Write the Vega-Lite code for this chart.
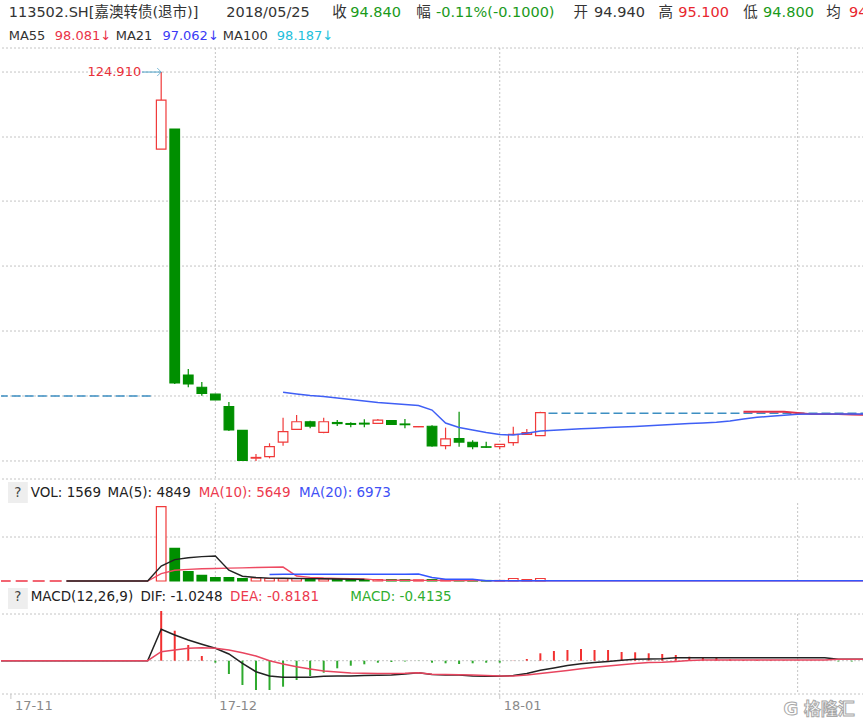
{
"$schema": "https://vega.github.io/schema/vega-lite/v6.json",
"width": 863, "height": 694, "padding": 0, "background": "#ffffff",
"config": {"view": {"stroke": null}, "font": "DejaVu Sans"},
"resolve": {"scale": {"y": "independent"}},
"datasets": {
"k": [
{"d":"2017-11-27","i":0,"o":118.12,"h":124.91,"l":118.12,"c":122.44,"v":743000},
{"d":"2017-11-28","i":1,"o":119.88,"h":119.88,"l":97.40,"c":97.49,"v":327000},
{"d":"2017-11-29","i":2,"o":98.19,"h":98.72,"l":97.12,"c":97.40,"v":93000},
{"d":"2017-11-30","i":3,"o":97.11,"h":97.57,"l":96.37,"c":96.58,"v":57000},
{"d":"2017-12-01","i":4,"o":96.50,"h":96.50,"l":95.99,"c":95.99,"v":33000},
{"d":"2017-12-04","i":5,"o":95.40,"h":95.81,"l":93.25,"c":93.34,"v":33000},
{"d":"2017-12-05","i":6,"o":93.30,"h":93.30,"l":90.61,"c":90.65,"v":23000},
{"d":"2017-12-06","i":7,"o":90.86,"h":91.22,"l":90.61,"c":90.92,"v":30000},
{"d":"2017-12-07","i":8,"o":90.99,"h":92.17,"l":90.84,"c":91.87,"v":25000},
{"d":"2017-12-08","i":9,"o":92.28,"h":94.43,"l":91.96,"c":93.19,"v":23000},
{"d":"2017-12-11","i":10,"o":93.40,"h":94.66,"l":93.40,"c":94.07,"v":25000},
{"d":"2017-12-12","i":11,"o":94.07,"h":94.16,"l":93.49,"c":93.69,"v":17000},
{"d":"2017-12-13","i":12,"o":93.14,"h":94.43,"l":93.05,"c":94.07,"v":20000},
{"d":"2017-12-14","i":13,"o":94.00,"h":94.22,"l":93.69,"c":93.91,"v":15000},
{"d":"2017-12-15","i":14,"o":93.91,"h":94.02,"l":93.58,"c":93.84,"v":13000},
{"d":"2017-12-18","i":15,"o":93.94,"h":94.28,"l":93.58,"c":93.87,"v":13000},
{"d":"2017-12-19","i":16,"o":93.93,"h":94.31,"l":93.93,"c":94.22,"v":15000},
{"d":"2017-12-20","i":17,"o":94.16,"h":94.16,"l":93.84,"c":93.84,"v":15000},
{"d":"2017-12-21","i":18,"o":93.87,"h":94.31,"l":93.49,"c":93.81,"v":13000},
{"d":"2017-12-22","i":19,"o":93.62,"h":93.66,"l":93.60,"c":93.64,"v":11000},
{"d":"2017-12-25","i":20,"o":93.67,"h":93.75,"l":91.87,"c":91.93,"v":15000},
{"d":"2017-12-26","i":21,"o":91.96,"h":93.55,"l":91.64,"c":92.55,"v":12000},
{"d":"2017-12-27","i":22,"o":92.58,"h":94.95,"l":91.87,"c":92.28,"v":12000},
{"d":"2017-12-28","i":23,"o":92.26,"h":92.43,"l":91.64,"c":91.87,"v":10000},
{"d":"2017-12-29","i":24,"o":91.86,"h":92.31,"l":91.78,"c":91.82,"v":5000},
{"d":"2018-01-02","i":25,"o":91.87,"h":92.11,"l":91.67,"c":92.08,"v":5000},
{"d":"2018-01-03","i":26,"o":92.22,"h":93.63,"l":91.96,"c":92.96,"v":25000},
{"d":"2018-01-04","i":27,"o":92.96,"h":93.42,"l":92.96,"c":93.11,"v":13000},
{"d":"2018-01-05","i":28,"o":92.84,"h":94.95,"l":92.84,"c":94.87,"v":25000}
],
"pma": [
{"i":9,"p":96.67},{"i":10,"p":96.52},{"i":11,"p":96.38},{"i":12,"p":96.29},{"i":13,"p":96.16},{"i":14,"p":96.03},{"i":15,"p":95.90},{"i":16,"p":95.76},{"i":17,"p":95.68},{"i":18,"p":95.59},{"i":19,"p":95.50},{"i":20,"p":95.10},{"i":21,"p":93.96},{"i":22,"p":93.56},{"i":23,"p":93.34},{"i":24,"p":93.12},{"i":25,"p":92.94},{"i":26,"p":92.90},{"i":27,"p":93.05},{"i":28,"p":93.25},{"i":29,"p":93.31},{"i":30,"p":93.38},{"i":31,"p":93.45},{"i":32,"p":93.50},{"i":33,"p":93.56},{"i":34,"p":93.60},{"i":35,"p":93.66},{"i":36,"p":93.71},{"i":37,"p":93.78},{"i":38,"p":93.84},{"i":39,"p":93.91},{"i":40,"p":93.96},{"i":41,"p":94.02},{"i":42,"p":94.13},{"i":43,"p":94.31},{"i":44,"p":94.46},{"i":45,"p":94.55},{"i":46,"p":94.64},{"i":47,"p":94.73},{"i":48,"p":94.75},{"i":49,"p":94.75},{"i":50,"p":94.75},{"i":51,"p":94.75},{"i":52,"p":94.75}
],
"pma55": [
{"i":43,"p":94.95},{"i":44,"p":94.95},{"i":45,"p":94.95},{"i":46,"p":94.95},{"i":47,"p":94.84},{"i":48,"p":94.75},{"i":49,"p":94.75},{"i":50,"p":94.75},{"i":51,"p":94.71},{"i":52,"p":94.66}
],
"dsh": [
{"s":"a","i":-12,"p":96.34},{"s":"a","i":-0.66,"p":96.34},{"s":"b","i":28.6,"p":94.81},{"s":"b","i":52,"p":94.81}
],
"hi": [{"i":0,"p":124.91,"t":"124.910"}],
"vma": [
{"i":-7,"m5":0,"m10":0},{"i":-6,"m5":0,"m10":0},{"i":-5,"m5":0,"m10":0},{"i":-4,"m5":0,"m10":0},{"i":-3,"m5":0,"m10":0},{"i":-2,"m5":0,"m10":0},{"i":-1,"m5":0,"m10":0},
{"i":0,"m5":148600,"m10":74300},{"i":1,"m5":214000,"m10":107000},{"i":2,"m5":232600,"m10":116300},{"i":3,"m5":244000,"m10":122000},{"i":4,"m5":250600,"m10":125300},{"i":5,"m5":108600,"m10":128600},{"i":6,"m5":47800,"m10":130900},{"i":7,"m5":35200,"m10":134600},
{"i":8,"m5":28800,"m10":137100,"m20":66000},{"i":9,"m5":26800,"m10":139400,"m20":67000},{"i":10,"m5":25200,"m10":50000,"m20":67000},{"i":11,"m5":24000,"m10":36600,"m20":67000},{"i":12,"m5":22000,"m10":29300,"m20":67500},{"i":13,"m5":20000,"m10":25100,"m20":67500},{"i":14,"m5":18000,"m10":23100,"m20":68000},{"i":15,"m5":15600,"m10":21100,"m20":68000},
{"i":16,"m10":9000,"m20":68000},{"i":17,"m10":8000,"m20":68500},{"i":18,"m10":7000,"m20":68500},{"i":19,"m10":6000,"m20":69000},{"i":20,"m10":6000,"m20":35000},{"i":21,"m10":5000,"m20":17000},{"i":22,"m10":5000,"m20":17000},{"i":23,"m10":5000,"m20":17000},{"i":24,"m10":4000,"m20":3000},
{"i":25,"m10":2500,"m20":3000},{"i":26,"m10":2500,"m20":3000},{"i":27,"m10":2500,"m20":3000},{"i":28,"m10":2500,"m20":3000},{"i":29,"m10":2500,"m20":3000},{"i":30,"m10":2500,"m20":3000},{"i":31,"m10":2500,"m20":3000},{"i":32,"m10":2500,"m20":3000},{"i":33,"m10":2500,"m20":3000},{"i":34,"m10":2500,"m20":3000},{"i":35,"m10":2500,"m20":3000},{"i":36,"m10":2500,"m20":3000},{"i":37,"m10":2500,"m20":3000},{"i":38,"m10":2500,"m20":3000},{"i":39,"m10":2500,"m20":3000},{"i":40,"m10":2500,"m20":3000},{"i":41,"m10":2500,"m20":3000},{"i":42,"m10":2500,"m20":3000},{"i":43,"m10":2500,"m20":3000},{"i":44,"m10":2500,"m20":3000},{"i":45,"m10":2500,"m20":3000},{"i":46,"m10":2500,"m20":3000},{"i":47,"m10":2500,"m20":3000},{"i":48,"m10":2500,"m20":3000},{"i":49,"m10":2500,"m20":3000},{"i":50,"m10":2500,"m20":3000},{"i":51,"m10":2500,"m20":3000},{"i":52,"m10":2500,"m20":3000}
],
"vdash": [{"i":-12,"v":0},{"i":-7.1,"v":0}],
"macd": [
{"i":-12,"dif":0,"dea":0},{"i":-11,"dif":0,"dea":0},{"i":-10,"dif":0,"dea":0},{"i":-9,"dif":0,"dea":0},{"i":-8,"dif":0,"dea":0},{"i":-7,"dif":0,"dea":0},{"i":-6,"dif":0,"dea":0},{"i":-5,"dif":0,"dea":0},{"i":-4,"dif":0,"dea":0},{"i":-3,"dif":0,"dea":0},{"i":-2,"dif":0,"dea":0},{"i":-1,"dif":0,"dea":0},
{"i":0,"dif":3.14,"dea":0.90,"m":4.97},{"i":1,"dif":2.57,"dea":1.07,"m":3.00},{"i":2,"dif":2.07,"dea":1.24,"m":1.57},{"i":3,"dif":1.64,"dea":1.30,"m":0.47},{"i":4,"dif":1.24,"dea":1.24,"m":-0.20},{"i":5,"dif":0.67,"dea":1.07,"m":-1.33},{"i":6,"dif":-0.26,"dea":0.80,"m":-2.43},{"i":7,"dif":-1.10,"dea":0.47,"m":-2.93},{"i":8,"dif":-1.53,"dea":0.00,"m":-2.93},{"i":9,"dif":-1.66,"dea":-0.33,"m":-2.60},{"i":10,"dif":-1.66,"dea":-0.60,"m":-1.93},{"i":11,"dif":-1.66,"dea":-0.83,"m":-1.53},{"i":12,"dif":-1.56,"dea":-1.03,"m":-1.20},{"i":13,"dif":-1.53,"dea":-1.13,"m":-0.76},{"i":14,"dif":-1.53,"dea":-1.23,"m":-0.50},{"i":15,"dif":-1.48,"dea":-1.26,"m":-0.36},{"i":16,"dif":-1.46,"dea":-1.28,"m":-0.20},{"i":17,"dif":-1.43,"dea":-1.28,"m":-0.13},{"i":18,"dif":-1.33,"dea":-1.26,"m":-0.08},{"i":19,"dif":-1.21,"dea":-1.21,"m":-0.02},{"i":20,"dif":-1.38,"dea":-1.35,"m":-0.20},{"i":21,"dif":-1.43,"dea":-1.38,"m":-0.26},{"i":22,"dif":-1.43,"dea":-1.40,"m":-0.33},{"i":23,"dif":-1.53,"dea":-1.43,"m":-0.26},{"i":24,"dif":-1.56,"dea":-1.48,"m":-0.20},{"i":25,"dif":-1.56,"dea":-1.53,"m":-0.20},{"i":26,"dif":-1.48,"dea":-1.53,"m":0.02},{"i":27,"dif":-1.28,"dea":-1.43,"m":0.17},{"i":28,"dif":-0.96,"dea":-1.28,"m":0.74},{"i":29,"dif":-0.73,"dea":-1.13,"m":0.97},{"i":30,"dif":-0.48,"dea":-0.98,"m":1.07},{"i":31,"dif":-0.31,"dea":-0.81,"m":1.17},{"i":32,"dif":-0.18,"dea":-0.66,"m":1.07},{"i":33,"dif":-0.08,"dea":-0.53,"m":1.07},{"i":34,"dif":0.04,"dea":-0.40,"m":0.87},{"i":35,"dif":0.14,"dea":-0.28,"m":0.84},{"i":36,"dif":0.17,"dea":-0.18,"m":0.74},{"i":37,"dif":0.19,"dea":-0.16,"m":0.67},{"i":38,"dif":0.30,"dea":-0.08,"m":0.57},{"i":39,"dif":0.30,"dea":0.02,"m":0.40},{"i":40,"dif":0.30,"dea":0.07,"m":0.34},{"i":41,"dif":0.30,"dea":0.07,"m":0.30},{"i":42,"dif":0.30,"dea":0.07,"m":0.12},{"i":43,"dif":0.30,"dea":0.07,"m":0.07},{"i":44,"dif":0.30,"dea":0.07,"m":0.07},{"i":45,"dif":0.30,"dea":0.07,"m":0.05},{"i":46,"dif":0.30,"dea":0.07,"m":0.04},{"i":47,"dif":0.30,"dea":0.07,"m":0.03},{"i":48,"dif":0.30,"dea":0.07,"m":0.02},{"i":49,"dif":0.30,"dea":0.07,"m":0.0},{"i":50,"dif":0.14,"dea":0.14,"m":-0.08},{"i":51,"dif":0.14,"dea":0.14,"m":-0.08},{"i":52,"dif":0.14,"dea":0.14}
],
"hgp": [{"p":127.03},{"p":124.91},{"p":119.18},{"p":113.53},{"p":107.80},{"p":102.07},{"p":96.34},{"p":90.61},{"p":89.02}],
"hgv": [{"v":440000}],
"hgm": [{"m":4.67},{"m":0},{"m":-3.33}],
"vg": [{"i":4},{"i":25},{"i":47}],
"mon": [{"i":-11.1,"t":"17-11"},{"i":4,"t":"17-12"},{"i":25,"t":"18-01"}]
},
"layer": [
{"data":{"name":"hgp"},"mark":{"type":"rule","color":"#c4c4c4","strokeDash":[2,2],"strokeWidth":1},
 "encoding":{"y":{"field":"p","type":"quantitative","scale":{"domain":[89.02,127.03],"range":[479,48],"nice":false,"zero":false},"axis":null}}},
{"data":{"name":"hgv"},"mark":{"type":"rule","color":"#c4c4c4","strokeDash":[2,2],"strokeWidth":1},
 "encoding":{"y":{"field":"v","type":"quantitative","scale":{"domain":[0,780000],"range":[581,503],"nice":false,"zero":false},"axis":null}}},
{"data":{"name":"hgm"},"mark":{"type":"rule","color":"#c4c4c4","strokeDash":[2,2],"strokeWidth":1},
 "encoding":{"y":{"field":"m","type":"quantitative","scale":{"domain":[-3.33,5.67],"range":[694,604],"nice":false,"zero":false},"axis":null}}},
{"data":{"name":"vg"},"mark":{"type":"rule","color":"#c4c4c4","strokeDash":[2,2],"strokeWidth":1},
 "encoding":{"x":{"field":"i","type":"quantitative","scale":{"domain":[-11.46,51.53],"nice":false,"zero":false},"axis":null},
  "y":{"datum":127.03,"type":"quantitative","scale":{"domain":[89.02,127.03],"range":[479,48],"nice":false,"zero":false},"axis":null},"y2":{"datum":89.02}}},
{"data":{"name":"vg"},"mark":{"type":"rule","color":"#c4c4c4","strokeDash":[2,2],"strokeWidth":1},
 "encoding":{"x":{"field":"i","type":"quantitative","scale":{"domain":[-11.46,51.53],"nice":false,"zero":false},"axis":null},
  "y":{"datum":780000,"type":"quantitative","scale":{"domain":[0,780000],"range":[581,503],"nice":false,"zero":false},"axis":null},"y2":{"datum":0}}},
{"data":{"name":"vg"},"mark":{"type":"rule","color":"#c4c4c4","strokeDash":[2,2],"strokeWidth":1},
 "encoding":{"x":{"field":"i","type":"quantitative","scale":{"domain":[-11.46,51.53],"nice":false,"zero":false},"axis":null},
  "y":{"datum":4.67,"type":"quantitative","scale":{"domain":[-3.33,5.67],"range":[694,604],"nice":false,"zero":false},"axis":null},"y2":{"datum":-3.33}}},
{"data":{"name":"mon"},"mark":{"type":"rule","color":"#c8c8c8","strokeWidth":1},
 "encoding":{"x":{"field":"i","type":"quantitative","scale":{"domain":[-11.46,51.53],"nice":false,"zero":false},"axis":null},
  "y":{"datum":-3.33,"type":"quantitative","scale":{"domain":[-3.33,5.67],"range":[694,604],"nice":false,"zero":false},"axis":null},"y2":{"datum":-3.83}}},
{"data":{"name":"mon"},"mark":{"type":"text","align":"left","baseline":"middle","dx":4,"fontSize":13,"font":"DejaVu Sans","color":"#8a8a8a"},
 "encoding":{"x":{"field":"i","type":"quantitative","scale":{"domain":[-11.46,51.53],"nice":false,"zero":false},"axis":null},
  "y":{"datum":-4.53,"type":"quantitative","scale":{"domain":[-3.33,5.67],"range":[694,604],"nice":false,"zero":false},"axis":null},"text":{"field":"t"}}},
{"data":{"name":"dsh"},"mark":{"type":"line","color":"#3d8fc2","strokeDash":[9,4],"strokeWidth":1.5,"clip":true},
 "encoding":{"x":{"field":"i","type":"quantitative","scale":{"domain":[-11.46,51.53],"nice":false,"zero":false},"axis":null},
  "y":{"field":"p","type":"quantitative","scale":{"domain":[89.02,127.03],"range":[479,48],"nice":false,"zero":false},"axis":null},"detail":{"field":"s"}}},
{"data":{"name":"k"},"mark":{"type":"rule","strokeWidth":1.2},
 "encoding":{"x":{"field":"i","type":"quantitative","scale":{"domain":[-11.46,51.53],"nice":false,"zero":false},"axis":null},
  "y":{"field":"l","type":"quantitative","scale":{"domain":[89.02,127.03],"range":[479,48],"nice":false,"zero":false},"axis":null},"y2":{"field":"h"},
  "stroke":{"condition":{"test":"datum.c >= datum.o","value":"#f03a3a"},"value":"#008f00"}}},
{"data":{"name":"k"},"mark":{"type":"bar","width":9.6,"strokeWidth":1.2,"fillOpacity":1},
 "encoding":{"x":{"field":"i","type":"quantitative","scale":{"domain":[-11.46,51.53],"nice":false,"zero":false},"axis":null},
  "y":{"field":"o","type":"quantitative","scale":{"domain":[89.02,127.03],"range":[479,48],"nice":false,"zero":false},"axis":null},"y2":{"field":"c"},
  "fill":{"condition":{"test":"datum.c >= datum.o","value":"#ffffff"},"value":"#008f00"},
  "stroke":{"condition":{"test":"datum.c >= datum.o","value":"#f03a3a"},"value":"#008f00"}}},
{"data":{"name":"pma55"},"mark":{"type":"line","color":"#e0304a","strokeWidth":1.8,"clip":true},
 "encoding":{"x":{"field":"i","type":"quantitative","scale":{"domain":[-11.46,51.53],"nice":false,"zero":false},"axis":null},
  "y":{"field":"p","type":"quantitative","scale":{"domain":[89.02,127.03],"range":[479,48],"nice":false,"zero":false},"axis":null}}},
{"data":{"name":"pma"},"mark":{"type":"line","color":"#3f5ff5","strokeWidth":1.5,"clip":true},
 "encoding":{"x":{"field":"i","type":"quantitative","scale":{"domain":[-11.46,51.53],"nice":false,"zero":false},"axis":null},
  "y":{"field":"p","type":"quantitative","scale":{"domain":[89.02,127.03],"range":[479,48],"nice":false,"zero":false},"axis":null}}},
{"data":{"name":"hi"},"mark":{"type":"rule","color":"#4aa0c8","strokeWidth":1},
 "encoding":{"x":{"field":"i","type":"quantitative","scale":{"domain":[-11.46,51.53],"nice":false,"zero":false},"axis":null},"x2":{"datum":-1.42},
  "y":{"field":"p","type":"quantitative","scale":{"domain":[89.02,127.03],"range":[479,48],"nice":false,"zero":false},"axis":null}}},
{"data":{"name":"hi"},"mark":{"type":"point","shape":"M-1,-1L0,0L-1,1","size":64,"filled":false,"stroke":"#4aa0c8","strokeWidth":1},
 "encoding":{"x":{"field":"i","type":"quantitative","scale":{"domain":[-11.46,51.53],"nice":false,"zero":false},"axis":null},
  "y":{"field":"p","type":"quantitative","scale":{"domain":[89.02,127.03],"range":[479,48],"nice":false,"zero":false},"axis":null}}},
{"data":{"name":"hi"},"mark":{"type":"text","align":"right","baseline":"middle","dx":-20,"fontSize":13,"color":"#e8303a","font":"DejaVu Sans"},
 "encoding":{"x":{"field":"i","type":"quantitative","scale":{"domain":[-11.46,51.53],"nice":false,"zero":false},"axis":null},
  "y":{"field":"p","type":"quantitative","scale":{"domain":[89.02,127.03],"range":[479,48],"nice":false,"zero":false},"axis":null},"text":{"field":"t"}}},
{"data":{"name":"k"},"mark":{"type":"bar","width":9.6,"strokeWidth":1.2,"fillOpacity":1},
 "encoding":{"x":{"field":"i","type":"quantitative","scale":{"domain":[-11.46,51.53],"nice":false,"zero":false},"axis":null},
  "y":{"field":"v","type":"quantitative","scale":{"domain":[0,780000],"range":[581,503],"nice":false,"zero":false},"axis":null},
  "fill":{"condition":{"test":"datum.c >= datum.o","value":"#ffffff"},"value":"#008f00"},
  "stroke":{"condition":{"test":"datum.c >= datum.o","value":"#f03a3a"},"value":"#008f00"}}},
{"data":{"name":"vdash"},"mark":{"type":"line","color":"#ee3344","strokeDash":[12,5],"strokeWidth":1.5,"clip":true},
 "encoding":{"x":{"field":"i","type":"quantitative","scale":{"domain":[-11.46,51.53],"nice":false,"zero":false},"axis":null},
  "y":{"field":"v","type":"quantitative","scale":{"domain":[0,780000],"range":[581,503],"nice":false,"zero":false},"axis":null}}},
{"data":{"name":"vma"},"mark":{"type":"line","color":"#ee4a62","strokeWidth":1.4,"clip":true},
 "encoding":{"x":{"field":"i","type":"quantitative","scale":{"domain":[-11.46,51.53],"nice":false,"zero":false},"axis":null},
  "y":{"field":"m10","type":"quantitative","scale":{"domain":[0,780000],"range":[581,503],"nice":false,"zero":false},"axis":null}}},
{"data":{"name":"vma"},"mark":{"type":"line","color":"#222222","strokeWidth":1.4,"clip":true},
 "encoding":{"x":{"field":"i","type":"quantitative","scale":{"domain":[-11.46,51.53],"nice":false,"zero":false},"axis":null},
  "y":{"field":"m5","type":"quantitative","scale":{"domain":[0,780000],"range":[581,503],"nice":false,"zero":false},"axis":null}}},
{"data":{"name":"vma"},"mark":{"type":"line","color":"#3355ff","strokeWidth":1.5,"clip":true},
 "encoding":{"x":{"field":"i","type":"quantitative","scale":{"domain":[-11.46,51.53],"nice":false,"zero":false},"axis":null},
  "y":{"field":"m20","type":"quantitative","scale":{"domain":[0,780000],"range":[581,503],"nice":false,"zero":false},"axis":null}}},
{"data":{"name":"macd"},"transform":[{"filter":"isValid(datum.m)"}],"mark":{"type":"rule","strokeWidth":2},
 "encoding":{"x":{"field":"i","type":"quantitative","scale":{"domain":[-11.46,51.53],"nice":false,"zero":false},"axis":null},
  "y":{"field":"m","type":"quantitative","scale":{"domain":[-3.33,5.67],"range":[694,604],"nice":false,"zero":false},"axis":null},"y2":{"datum":0},
  "stroke":{"condition":{"test":"datum.m >= 0","value":"#f23030"},"value":"#2eaa2e"}}},
{"data":{"name":"macd"},"mark":{"type":"line","color":"#222222","strokeWidth":1.5,"clip":true},
 "encoding":{"x":{"field":"i","type":"quantitative","scale":{"domain":[-11.46,51.53],"nice":false,"zero":false},"axis":null},
  "y":{"field":"dif","type":"quantitative","scale":{"domain":[-3.33,5.67],"range":[694,604],"nice":false,"zero":false},"axis":null}}},
{"data":{"name":"macd"},"mark":{"type":"line","color":"#e8455f","strokeWidth":1.5,"clip":true},
 "encoding":{"x":{"field":"i","type":"quantitative","scale":{"domain":[-11.46,51.53],"nice":false,"zero":false},"axis":null},
  "y":{"field":"dea","type":"quantitative","scale":{"domain":[-3.33,5.67],"range":[694,604],"nice":false,"zero":false},"axis":null}}},

{"data":{"values":[{}]},"mark":{"type":"text","text":"113502.SH[嘉澳转债(退市)]","align":"left","baseline":"alphabetic","fontSize":14.5,"font":"DejaVu Sans, Noto Sans CJK SC","color":"#333333"},
 "encoding":{"x":{"datum":-11.26,"type":"quantitative","scale":{"domain":[-11.46,51.53],"nice":false,"zero":false},"axis":null},"y":{"datum":129.76,"type":"quantitative","scale":{"domain":[89.02,127.03],"range":[479,48],"nice":false,"zero":false},"axis":null}}},
{"data":{"values":[{}]},"mark":{"type":"text","text":"2018/05/25","align":"left","baseline":"alphabetic","fontSize":14.5,"font":"DejaVu Sans, Noto Sans CJK SC","color":"#333333"},
 "encoding":{"x":{"datum":4.80,"type":"quantitative","scale":{"domain":[-11.46,51.53],"nice":false,"zero":false},"axis":null},"y":{"datum":129.76,"type":"quantitative","scale":{"domain":[89.02,127.03],"range":[479,48],"nice":false,"zero":false},"axis":null}}},
{"data":{"values":[{}]},"mark":{"type":"text","text":"收","align":"left","baseline":"alphabetic","fontSize":14.5,"font":"DejaVu Sans, Noto Sans CJK SC","color":"#333333"},
 "encoding":{"x":{"datum":12.63,"type":"quantitative","scale":{"domain":[-11.46,51.53],"nice":false,"zero":false},"axis":null},"y":{"datum":129.76,"type":"quantitative","scale":{"domain":[89.02,127.03],"range":[479,48],"nice":false,"zero":false},"axis":null}}},
{"data":{"values":[{}]},"mark":{"type":"text","text":"94.840","align":"left","baseline":"alphabetic","fontSize":14.5,"font":"DejaVu Sans, Noto Sans CJK SC","color":"#1a9a1a"},
 "encoding":{"x":{"datum":13.96,"type":"quantitative","scale":{"domain":[-11.46,51.53],"nice":false,"zero":false},"axis":null},"y":{"datum":129.76,"type":"quantitative","scale":{"domain":[89.02,127.03],"range":[479,48],"nice":false,"zero":false},"axis":null}}},
{"data":{"values":[{}]},"mark":{"type":"text","text":"幅","align":"left","baseline":"alphabetic","fontSize":14.5,"font":"DejaVu Sans, Noto Sans CJK SC","color":"#333333"},
 "encoding":{"x":{"datum":18.83,"type":"quantitative","scale":{"domain":[-11.46,51.53],"nice":false,"zero":false},"axis":null},"y":{"datum":129.76,"type":"quantitative","scale":{"domain":[89.02,127.03],"range":[479,48],"nice":false,"zero":false},"axis":null}}},
{"data":{"values":[{}]},"mark":{"type":"text","text":"-0.11%(-0.1000)","align":"left","baseline":"alphabetic","fontSize":14.5,"font":"DejaVu Sans, Noto Sans CJK SC","color":"#1a9a1a"},
 "encoding":{"x":{"datum":20.29,"type":"quantitative","scale":{"domain":[-11.46,51.53],"nice":false,"zero":false},"axis":null},"y":{"datum":129.76,"type":"quantitative","scale":{"domain":[89.02,127.03],"range":[479,48],"nice":false,"zero":false},"axis":null}}},
{"data":{"values":[{}]},"mark":{"type":"text","text":"开","align":"left","baseline":"alphabetic","fontSize":14.5,"font":"DejaVu Sans, Noto Sans CJK SC","color":"#333333"},
 "encoding":{"x":{"datum":30.44,"type":"quantitative","scale":{"domain":[-11.46,51.53],"nice":false,"zero":false},"axis":null},"y":{"datum":129.76,"type":"quantitative","scale":{"domain":[89.02,127.03],"range":[479,48],"nice":false,"zero":false},"axis":null}}},
{"data":{"values":[{}]},"mark":{"type":"text","text":"94.940","align":"left","baseline":"alphabetic","fontSize":14.5,"font":"DejaVu Sans, Noto Sans CJK SC","color":"#333333"},
 "encoding":{"x":{"datum":31.97,"type":"quantitative","scale":{"domain":[-11.46,51.53],"nice":false,"zero":false},"axis":null},"y":{"datum":129.76,"type":"quantitative","scale":{"domain":[89.02,127.03],"range":[479,48],"nice":false,"zero":false},"axis":null}}},
{"data":{"values":[{}]},"mark":{"type":"text","text":"高","align":"left","baseline":"alphabetic","fontSize":14.5,"font":"DejaVu Sans, Noto Sans CJK SC","color":"#333333"},
 "encoding":{"x":{"datum":36.72,"type":"quantitative","scale":{"domain":[-11.46,51.53],"nice":false,"zero":false},"axis":null},"y":{"datum":129.76,"type":"quantitative","scale":{"domain":[89.02,127.03],"range":[479,48],"nice":false,"zero":false},"axis":null}}},
{"data":{"values":[{}]},"mark":{"type":"text","text":"95.100","align":"left","baseline":"alphabetic","fontSize":14.5,"font":"DejaVu Sans, Noto Sans CJK SC","color":"#e8262e"},
 "encoding":{"x":{"datum":38.18,"type":"quantitative","scale":{"domain":[-11.46,51.53],"nice":false,"zero":false},"axis":null},"y":{"datum":129.76,"type":"quantitative","scale":{"domain":[89.02,127.03],"range":[479,48],"nice":false,"zero":false},"axis":null}}},
{"data":{"values":[{}]},"mark":{"type":"text","text":"低","align":"left","baseline":"alphabetic","fontSize":14.5,"font":"DejaVu Sans, Noto Sans CJK SC","color":"#333333"},
 "encoding":{"x":{"datum":42.99,"type":"quantitative","scale":{"domain":[-11.46,51.53],"nice":false,"zero":false},"axis":null},"y":{"datum":129.76,"type":"quantitative","scale":{"domain":[89.02,127.03],"range":[479,48],"nice":false,"zero":false},"axis":null}}},
{"data":{"values":[{}]},"mark":{"type":"text","text":"94.800","align":"left","baseline":"alphabetic","fontSize":14.5,"font":"DejaVu Sans, Noto Sans CJK SC","color":"#1a9a1a"},
 "encoding":{"x":{"datum":44.45,"type":"quantitative","scale":{"domain":[-11.46,51.53],"nice":false,"zero":false},"axis":null},"y":{"datum":129.76,"type":"quantitative","scale":{"domain":[89.02,127.03],"range":[479,48],"nice":false,"zero":false},"axis":null}}},
{"data":{"values":[{}]},"mark":{"type":"text","text":"均","align":"left","baseline":"alphabetic","fontSize":14.5,"font":"DejaVu Sans, Noto Sans CJK SC","color":"#333333"},
 "encoding":{"x":{"datum":49.12,"type":"quantitative","scale":{"domain":[-11.46,51.53],"nice":false,"zero":false},"axis":null},"y":{"datum":129.76,"type":"quantitative","scale":{"domain":[89.02,127.03],"range":[479,48],"nice":false,"zero":false},"axis":null}}},
{"data":{"values":[{}]},"mark":{"type":"text","text":"94.870","align":"left","baseline":"alphabetic","fontSize":14.5,"font":"DejaVu Sans, Noto Sans CJK SC","color":"#e8262e","clip":true},
 "encoding":{"x":{"datum":50.80,"type":"quantitative","scale":{"domain":[-11.46,51.53],"nice":false,"zero":false},"axis":null},"y":{"datum":129.76,"type":"quantitative","scale":{"domain":[89.02,127.03],"range":[479,48],"nice":false,"zero":false},"axis":null}}},

{"data":{"values":[{}]},"mark":{"type":"text","text":"MA55","align":"left","baseline":"alphabetic","fontSize":13,"font":"DejaVu Sans","color":"#333333"},
 "encoding":{"x":{"datum":-11.26,"type":"quantitative","scale":{"domain":[-11.46,51.53],"nice":false,"zero":false},"axis":null},"y":{"datum":127.73,"type":"quantitative","scale":{"domain":[89.02,127.03],"range":[479,48],"nice":false,"zero":false},"axis":null}}},
{"data":{"values":[{}]},"mark":{"type":"text","text":"98.081↓","align":"left","baseline":"alphabetic","fontSize":13,"font":"DejaVu Sans","color":"#ea3347"},
 "encoding":{"x":{"datum":-7.86,"type":"quantitative","scale":{"domain":[-11.46,51.53],"nice":false,"zero":false},"axis":null},"y":{"datum":127.73,"type":"quantitative","scale":{"domain":[89.02,127.03],"range":[479,48],"nice":false,"zero":false},"axis":null}}},
{"data":{"values":[{}]},"mark":{"type":"text","text":"MA21","align":"left","baseline":"alphabetic","fontSize":13,"font":"DejaVu Sans","color":"#333333"},
 "encoding":{"x":{"datum":-3.36,"type":"quantitative","scale":{"domain":[-11.46,51.53],"nice":false,"zero":false},"axis":null},"y":{"datum":127.73,"type":"quantitative","scale":{"domain":[89.02,127.03],"range":[479,48],"nice":false,"zero":false},"axis":null}}},
{"data":{"values":[{}]},"mark":{"type":"text","text":"97.062↓","align":"left","baseline":"alphabetic","fontSize":13,"font":"DejaVu Sans","color":"#3a3af5"},
 "encoding":{"x":{"datum":0.09,"type":"quantitative","scale":{"domain":[-11.46,51.53],"nice":false,"zero":false},"axis":null},"y":{"datum":127.73,"type":"quantitative","scale":{"domain":[89.02,127.03],"range":[479,48],"nice":false,"zero":false},"axis":null}}},
{"data":{"values":[{}]},"mark":{"type":"text","text":"MA100","align":"left","baseline":"alphabetic","fontSize":13,"font":"DejaVu Sans","color":"#333333"},
 "encoding":{"x":{"datum":4.55,"type":"quantitative","scale":{"domain":[-11.46,51.53],"nice":false,"zero":false},"axis":null},"y":{"datum":127.73,"type":"quantitative","scale":{"domain":[89.02,127.03],"range":[479,48],"nice":false,"zero":false},"axis":null}}},
{"data":{"values":[{}]},"mark":{"type":"text","text":"98.187↓","align":"left","baseline":"alphabetic","fontSize":13,"font":"DejaVu Sans","color":"#22c0dc"},
 "encoding":{"x":{"datum":8.54,"type":"quantitative","scale":{"domain":[-11.46,51.53],"nice":false,"zero":false},"axis":null},"y":{"datum":127.73,"type":"quantitative","scale":{"domain":[89.02,127.03],"range":[479,48],"nice":false,"zero":false},"axis":null}}},

{"data":{"values":[{}]},"mark":{"type":"rect","color":"#eeeeee"},
 "encoding":{"x":{"datum":-11.31,"type":"quantitative","scale":{"domain":[-11.46,51.53],"nice":false,"zero":false},"axis":null},"x2":{"datum":-9.85},"y":{"datum":990000,"type":"quantitative","scale":{"domain":[0,780000],"range":[581,503],"nice":false,"zero":false},"axis":null},"y2":{"datum":780000}}},
{"data":{"values":[{}]},"mark":{"type":"text","text":"?","align":"center","baseline":"alphabetic","fontSize":13.5,"font":"DejaVu Sans","color":"#444444"},
 "encoding":{"x":{"datum":-10.58,"type":"quantitative","scale":{"domain":[-11.46,51.53],"nice":false,"zero":false},"axis":null},"y":{"datum":840000,"type":"quantitative","scale":{"domain":[0,780000],"range":[581,503],"nice":false,"zero":false},"axis":null}}},
{"data":{"values":[{}]},"mark":{"type":"text","text":"VOL: 1569","align":"left","baseline":"alphabetic","fontSize":13.5,"font":"DejaVu Sans","color":"#222222"},
 "encoding":{"x":{"datum":-9.64,"type":"quantitative","scale":{"domain":[-11.46,51.53],"nice":false,"zero":false},"axis":null},"y":{"datum":840000,"type":"quantitative","scale":{"domain":[0,780000],"range":[581,503],"nice":false,"zero":false},"axis":null}}},
{"data":{"values":[{}]},"mark":{"type":"text","text":"MA(5): 4849","align":"left","baseline":"alphabetic","fontSize":13.5,"font":"DejaVu Sans","color":"#222222"},
 "encoding":{"x":{"datum":-3.96,"type":"quantitative","scale":{"domain":[-11.46,51.53],"nice":false,"zero":false},"axis":null},"y":{"datum":840000,"type":"quantitative","scale":{"domain":[0,780000],"range":[581,503],"nice":false,"zero":false},"axis":null}}},
{"data":{"values":[{}]},"mark":{"type":"text","text":"MA(10): 5649","align":"left","baseline":"alphabetic","fontSize":13.5,"font":"DejaVu Sans","color":"#ec3a4e"},
 "encoding":{"x":{"datum":2.77,"type":"quantitative","scale":{"domain":[-11.46,51.53],"nice":false,"zero":false},"axis":null},"y":{"datum":840000,"type":"quantitative","scale":{"domain":[0,780000],"range":[581,503],"nice":false,"zero":false},"axis":null}}},
{"data":{"values":[{}]},"mark":{"type":"text","text":"MA(20): 6973","align":"left","baseline":"alphabetic","fontSize":13.5,"font":"DejaVu Sans","color":"#4050f5"},
 "encoding":{"x":{"datum":10.18,"type":"quantitative","scale":{"domain":[-11.46,51.53],"nice":false,"zero":false},"axis":null},"y":{"datum":840000,"type":"quantitative","scale":{"domain":[0,780000],"range":[581,503],"nice":false,"zero":false},"axis":null}}},

{"data":{"values":[{}]},"mark":{"type":"rect","color":"#eeeeee"},
 "encoding":{"x":{"datum":-11.31,"type":"quantitative","scale":{"domain":[-11.46,51.53],"nice":false,"zero":false},"axis":null},"x2":{"datum":-9.85},"y":{"datum":7.27,"type":"quantitative","scale":{"domain":[-3.33,5.67],"range":[694,604],"nice":false,"zero":false},"axis":null},"y2":{"datum":5.17}}},
{"data":{"values":[{}]},"mark":{"type":"text","text":"?","align":"center","baseline":"alphabetic","fontSize":13.5,"font":"DejaVu Sans","color":"#444444"},
 "encoding":{"x":{"datum":-10.58,"type":"quantitative","scale":{"domain":[-11.46,51.53],"nice":false,"zero":false},"axis":null},"y":{"datum":5.97,"type":"quantitative","scale":{"domain":[-3.33,5.67],"range":[694,604],"nice":false,"zero":false},"axis":null}}},
{"data":{"values":[{}]},"mark":{"type":"text","text":"MACD(12,26,9)","align":"left","baseline":"alphabetic","fontSize":13.5,"font":"DejaVu Sans","color":"#222222"},
 "encoding":{"x":{"datum":-9.64,"type":"quantitative","scale":{"domain":[-11.46,51.53],"nice":false,"zero":false},"axis":null},"y":{"datum":5.97,"type":"quantitative","scale":{"domain":[-3.33,5.67],"range":[694,604],"nice":false,"zero":false},"axis":null}}},
{"data":{"values":[{}]},"mark":{"type":"text","text":"DIF: -1.0248","align":"left","baseline":"alphabetic","fontSize":13.5,"font":"DejaVu Sans","color":"#222222"},
 "encoding":{"x":{"datum":-1.53,"type":"quantitative","scale":{"domain":[-11.46,51.53],"nice":false,"zero":false},"axis":null},"y":{"datum":5.97,"type":"quantitative","scale":{"domain":[-3.33,5.67],"range":[694,604],"nice":false,"zero":false},"axis":null}}},
{"data":{"values":[{}]},"mark":{"type":"text","text":"DEA: -0.8181","align":"left","baseline":"alphabetic","fontSize":13.5,"font":"DejaVu Sans","color":"#ec3a4e"},
 "encoding":{"x":{"datum":5.09,"type":"quantitative","scale":{"domain":[-11.46,51.53],"nice":false,"zero":false},"axis":null},"y":{"datum":5.97,"type":"quantitative","scale":{"domain":[-3.33,5.67],"range":[694,604],"nice":false,"zero":false},"axis":null}}},
{"data":{"values":[{}]},"mark":{"type":"text","text":"MACD: -0.4135","align":"left","baseline":"alphabetic","fontSize":13.5,"font":"DejaVu Sans","color":"#2fae2f"},
 "encoding":{"x":{"datum":13.96,"type":"quantitative","scale":{"domain":[-11.46,51.53],"nice":false,"zero":false},"axis":null},"y":{"datum":5.97,"type":"quantitative","scale":{"domain":[-3.33,5.67],"range":[694,604],"nice":false,"zero":false},"axis":null}}},

{"data":{"values":[{}]},"mark":{"type":"text","text":"G","align":"left","baseline":"alphabetic","fontSize":18,"fontWeight":"bold","font":"DejaVu Sans","fill":"#ffffff","stroke":"#a8a8a8","strokeWidth":1},
 "encoding":{"x":{"datum":45.95,"type":"quantitative","scale":{"domain":[-11.46,51.53],"nice":false,"zero":false},"axis":null},"y":{"datum":-5.45,"type":"quantitative","scale":{"domain":[-3.33,5.67],"range":[694,604],"nice":false,"zero":false},"axis":null}}},
{"data":{"values":[{}]},"mark":{"type":"text","text":"格隆汇","align":"left","baseline":"alphabetic","fontSize":17,"fontWeight":"bold","font":"Noto Sans CJK SC","fill":"#ffffff","stroke":"#a8a8a8","strokeWidth":1},
 "encoding":{"x":{"datum":47.45,"type":"quantitative","scale":{"domain":[-11.46,51.53],"nice":false,"zero":false},"axis":null},"y":{"datum":-5.45,"type":"quantitative","scale":{"domain":[-3.33,5.67],"range":[694,604],"nice":false,"zero":false},"axis":null}}}
]
}
